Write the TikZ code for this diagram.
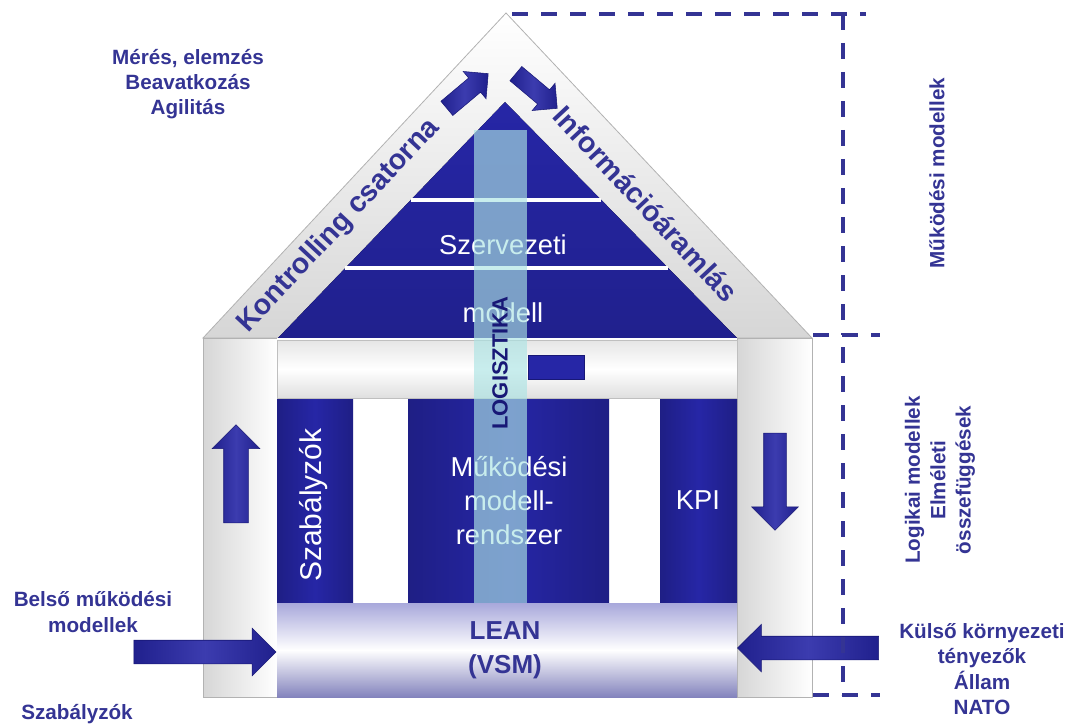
\documentclass[tikz,border=0pt]{standalone}
\usepackage{fontspec}
\setmainfont{Liberation Sans}
\usetikzlibrary{shapes.arrows}
\definecolor{hblue}{RGB}{38,38,166}
\definecolor{hdark}{RGB}{24,24,118}
\definecolor{tblue}{RGB}{52,52,148}
\definecolor{hgray}{RGB}{214,214,214}
\definecolor{hlav}{RGB}{146,146,210}
\definecolor{hcyan}{RGB}{172,228,228}
\tikzset{
  lbl/.style={text=tblue, font=\bfseries\fontsize{15.5}{19}\selectfont, align=center},
  wlbl/.style={text=white, font=\fontsize{20.5}{25.5}\selectfont, align=center},
  rooflbl/.style={text=tblue, font=\bfseries\fontsize{21.5}{24}\selectfont},
  grayblk/.style={draw=gray!60, line width=0.6pt, left color=hgray, right color=white},
  bluecol/.style={left color=hblue!80!black, right color=hblue!80!black, middle color=hblue},
  blkarrow/.style={single arrow, draw=hdark, line width=0.4pt,
    left color=hblue!85!black, right color=hblue!85!black, middle color=hblue!90!white,
    inner xsep=0pt, single arrow tip angle=90}
  ,brk/.style={draw=tblue, line width=3pt, dash pattern=on 12pt off 9.75pt}
}
\begin{document}
\begin{tikzpicture}[x=0.75pt, y=-0.75pt]

  \newcommand\PX{0.75pt}
  \useasboundingbox (0,0) rectangle (1072,724);

  % roof
  \draw[draw=gray!60, line width=0.6pt, top color=white, bottom color=hgray]
    (203,338) -- (506,13) -- (812,338) -- cycle;
  \fill[top color=hblue, bottom color=hblue!85!black]
    (278,338) -- (505,102) -- (737,338) -- cycle;
  \draw[white, line width=2.4pt] (411,200) -- (601,200);
  \draw[white, line width=2.4pt] (345,268) -- (668,268);

  % house body
  \draw[grayblk] (203,338) rectangle (812,697);
  \draw[grayblk] (203,338) rectangle (277,697);
  \draw[grayblk] (737,338) rectangle (812,697);
  \fill[white] (277,338) rectangle (737,697);
  \draw[draw=gray!50, top color=gray!20, bottom color=gray!25, middle color=white]
    (277,340) rectangle (737,398);
  \fill[bluecol] (277,399) rectangle (353,602);
  \fill[bluecol] (408,399) rectangle (609,602);
  \fill[bluecol] (660,399) rectangle (737,602);
  \fill[top color=hlav!80!white, bottom color=hlav!90!black, middle color=white]
    (277,603) rectangle (737,697);
  \fill[hblue, draw=hdark] (528,355) rectangle (584,379);

  % texts on the blue parts
  \node[wlbl] (org1) at (503,245) {Szervezeti};
  \node[wlbl] (org2) at (503,313) {modell};
  \node[wlbl] (opsys) at (509,501) {Működési\\modell-\\rendszer};
  \node[wlbl] (kpi) at (698,500) {KPI};
  \node[wlbl, rotate=90, font=\fontsize{22.5}{26}\selectfont] (regcol) at (314,505) {Szabályzók};
  \node[text=tblue, font=\bfseries\fontsize{19.5}{25.5}\selectfont, align=center]
    (lean) at (505,650) {LEAN\\(VSM)};

  % logistics bar
  \fill[hcyan, opacity=0.65] (474,130) rectangle (527,603);
  \node[text=hdark, rotate=90, font=\bfseries\fontsize{16.5}{18}\selectfont] (logi) at (500,363) {LOGISZTIKA};

  % block arrows
  \node[blkarrow, minimum height=54*\PX, inner ysep=9*\PX,
    single arrow head extend=8.5*\PX, rotate=40] (upRoof) at (464,94) {};
  \node[blkarrow, minimum height=54*\PX, inner ysep=9*\PX,
    single arrow head extend=8.5*\PX, rotate=-40] (dnRoof) at (533,88) {};
  \node[blkarrow, minimum height=98*\PX, inner ysep=12*\PX,
    single arrow head extend=11.5*\PX, rotate=90] (upArr) at (236,480) {};
  \node[blkarrow, minimum height=97*\PX, inner ysep=11*\PX,
    single arrow head extend=12*\PX, rotate=-90] (dnArr) at (775,476) {};
  \node[blkarrow, minimum height=142*\PX, inner ysep=11.5*\PX,
    single arrow head extend=12*\PX] (inArr) at (199,652) {};
  \node[blkarrow, minimum height=141*\PX, inner ysep=11.5*\PX,
    single arrow head extend=12*\PX, rotate=180] (exArr) at (814,648) {};

  % roof labels
  \node[rooflbl, rotate=47] (ctrl) at (339,226) {Kontrolling csatorna};
  \node[rooflbl, rotate=-47] (info) at (646,204) {Információáramlás};

  % dashed brackets
  \draw[brk] (512,14) -- (866,14);
  \draw[brk] (843,14) -- (843,335);
  \draw[brk] (813,335) -- (880,335);
  \draw[brk] (843,347) -- (843,695);
  \draw[brk] (813,695) -- (880,695);

  % side labels
  \node[lbl] (measure) at (188,84) {Mérés, elemzés\\Beavatkozás\\Agilitás};
  \node[lbl] (inner) at (93,612) {Belső működési\\modellek};
  \node[lbl] (regs) at (77,714) {Szabályzók};
  \node[lbl] (outer) at (982,669) {Külső környezeti\\tényezők\\Állam\\NATO};
  \node[lbl, rotate=90] (opmod) at (937,173) {Működési modellek};
  \node[lbl, rotate=90] (logmod) at (940,480) {Logikai modellek\\Elméleti\\összefüggések};

\end{tikzpicture}
\end{document}
